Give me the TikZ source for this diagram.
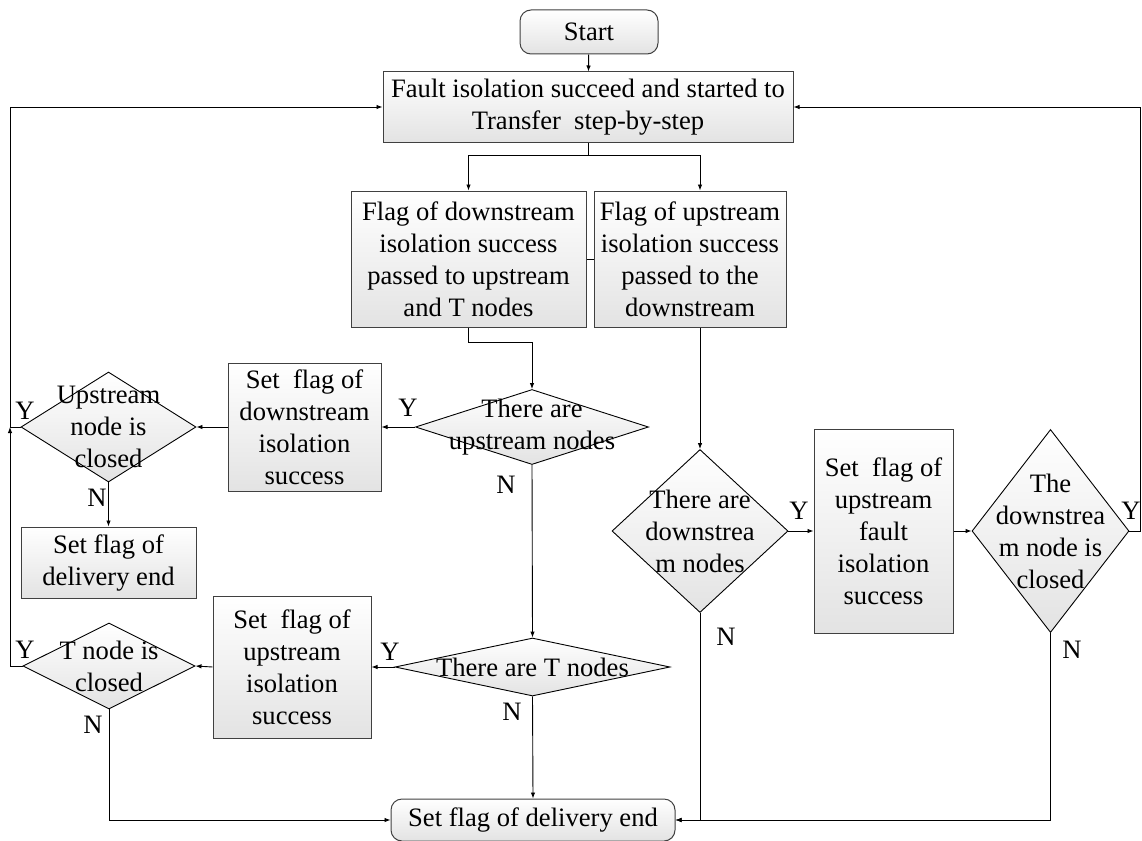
\documentclass[tikz,border=0pt]{standalone}
\usepackage{fontspec}
\setmainfont{Liberation Serif}
\usetikzlibrary{shapes.geometric,arrows.meta}

\begin{document}
\begin{tikzpicture}[x=1pt,y=-1pt,
  font=\fontsize{26.6}{32}\selectfont,
  box/.style={draw=black!75,line width=1pt,top color=white,bottom color=black!11,align=center,inner sep=0pt},
  terminal/.style={box,rounded corners=11pt},
  decision/.style={diamond,draw=black,line width=0.9pt,top color=white,bottom color=black!11,inner sep=0pt},
  arr/.style={line width=0.9pt,-{Latex[length=6pt,width=4.5pt]}},
  line/.style={line width=0.9pt}]
\useasboundingbox (0,0) rectangle (1142,840);

% top part
\node[terminal,minimum width=138pt,minimum height=44pt] (start) at (589,32) {Start};
\node[box,minimum width=410pt,minimum height=70pt] (fault) at (588,107) {Fault isolation succeed and started to\\Transfer\ \ step-by-step};
\node[box,minimum width=235pt,minimum height=136pt] (dflag) at (468.5,259) {Flag of downstream\\isolation success\\passed to upstream\\and T nodes};
\node[box,minimum width=192pt,minimum height=136pt] (uflag) at (690,259) {Flag of upstream\\isolation success\\passed to the\\downstream};

% left branch
\node[decision,minimum width=233pt,minimum height=75pt,label={[align=center]center:There are\\upstream nodes}] (updia) at (532,427) {};
\node[box,minimum width=153pt,minimum height=128pt] (dsset) at (304.5,427) {Set\ \ flag of\\downstream\\isolation\\success};
\node[decision,minimum width=175pt,minimum height=110pt,label={[align=center]center:Upstream\\node is\\closed}] (ucl) at (108.5,427) {};
\node[box,minimum width=175pt,minimum height=71pt] (lend) at (108.5,562.5) {Set flag of\\delivery end};
\node[decision,minimum width=275pt,minimum height=58pt,label={[align=center]center:There are T nodes}] (tdia) at (532.5,667) {};
\node[box,minimum width=158pt,minimum height=142pt] (usset) at (292,667) {Set\ \ flag of\\upstream\\isolation\\success};
\node[decision,minimum width=172pt,minimum height=86pt,label={[align=center]center:T node is\\closed}] (tcl) at (109,666) {};
\node[terminal,minimum width=284pt,minimum height=42pt] (endb) at (533,820) {Set flag of delivery end};

% right branch
\node[decision,minimum width=176pt,minimum height=163pt,label={[align=center]center:There are\\downstrea\\m nodes}] (dsdia) at (700,531) {};
\node[box,minimum width=139pt,minimum height=204pt] (ufset) at (883.5,531) {Set\ \ flag of\\upstream\\fault\\isolation\\success};
\node[decision,minimum width=157pt,minimum height=203pt,label={[align=center]center:The\\downstrea\\m node is\\closed}] (dcl) at (1050.5,531) {};

% joints
\coordinate (lj) at (10,427);
\coordinate (rj) at (1140,531);

% connectors
\draw[arr] (start) -- (fault);
\draw[line] (fault.south) -- ++(0,13) coordinate (fj);
\draw[arr] (fj) -| (dflag.north);
\draw[arr] (fj) -| (dsdia.north |- uflag.north);
\draw[line] (dflag.east) -- (uflag.west);
\draw[arr] (dflag.south) -- ++(0,15) -| (updia.north);
\draw[arr] (dsdia.north |- uflag.south) -- (dsdia.north);

\draw[arr] (updia.west) -- (dsset.east);
\draw[arr] (dsset.west) -- (ucl.east);
\draw[arr] (ucl.south) -- (lend.north);
\draw[arr] (ucl.west) -- (lj) |- (fault.west);
\draw[arr] (tcl.west) -| (lj);
\draw[arr] (updia.south) -- (tdia.north);
\draw[arr] (tdia.west) -- (usset.east);
\draw[arr] (usset.west) -- (tcl.east);
\draw[arr] (tcl.south) |- (endb.west);
\draw[arr] (tdia.south) -- (endb.north);

\draw[arr] (dsdia.east) -- (ufset.west);
\draw[arr] (ufset.east) -- (dcl.west);
\draw[arr] (dsdia.south) |- (endb.east);
\draw[arr] (dcl.south) |- (endb.east);
\draw[arr] (dcl.east) -- (rj) |- (fault.east);

% Y / N marks
\node (y1) at (408,408) {Y};
\node (n1) at (506,485) {N};
\node (y2) at (25,411) {Y};
\node (n2) at (97,498) {N};
\node (y3) at (390,652) {Y};
\node (n3) at (512,712) {N};
\node (y4) at (25,650) {Y};
\node (n4) at (93,725) {N};
\node (y5) at (799,511) {Y};
\node (n5) at (726,637) {N};
\node (y6) at (1131,511) {Y};
\node (n6) at (1072,650) {N};
\end{tikzpicture}
\end{document}
